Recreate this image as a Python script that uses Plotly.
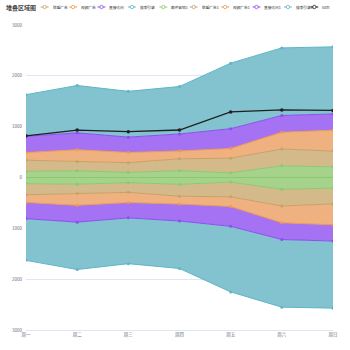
import plotly.graph_objects as go

days = ["周一", "周二", "周三", "周四", "周五", "周六", "周日"]
series_names = ["邮件营销", "联盟广告", "视频广告", "直接访问", "搜索引擎"]
email = [120, 132, 101, 134, 90, 230, 210]
union = [220, 182, 191, 234, 290, 330, 310]
video = [150, 232, 201, 154, 190, 330, 410]
direct = [320, 332, 301, 334, 390, 330, 320]
search = [820, 932, 901, 934, 1290, 1330, 1320]
sum_vals = [820, 932, 901, 934, 1290, 1330, 1320]
y_ticks = [3000, 2000, 1000, 0, -1000, -2000, -3000]
y_tick_text = ["3000", "2000", "1000", "0", "1000", "2000", "3000"]
legend_items = ["联盟广告", "视频广告", "直接访问", "搜索引擎", "邮件营销1",
                "联盟广告1", "视频广告1", "直接访问1", "搜索引擎1", "sum"]

values = [email, union, video, direct, search]
line_colors = ["#8cc96c", "#c7a266", "#f09a50", "#8c4ef0", "#5eb6c7"]
fill_colors = ["#a6d38c", "#d4b98b", "#efb17f", "#a472f2", "#82c3cf"]
legend_colors = ["#c7a266", "#f09a50", "#8c4ef0", "#5eb6c7", "#8cc96c",
                 "#c7a266", "#f09a50", "#8c4ef0", "#5eb6c7", "#1f1f1f"]
legend_icon_px = [42, 71, 100, 131, 163, 194, 226, 258, 290, 317]

W, H = 350, 350
ML, MR, MT, MB = 23, 14, 25, 20
PW, PH = W - ML - MR, H - MT - MB


def px_x(px):
    return (px - ML) / PW


def px_y(py):
    return (H - MB - py) / PH


fig = go.Figure()
for name, vals, lc, fc in zip(series_names, values, line_colors, fill_colors):
    fig.add_trace(go.Scatter(x=days, y=vals, name=name, stackgroup="pos",
                             mode="lines+markers", line=dict(color=lc, width=1),
                             marker=dict(size=3, color=lc), fillcolor=fc))
for name, vals, lc, fc in zip(series_names, values, line_colors, fill_colors):
    fig.add_trace(go.Scatter(x=days, y=[-v for v in vals], name=name + "1", stackgroup="neg",
                             mode="lines+markers", line=dict(color=lc, width=1),
                             marker=dict(size=3, color=lc), fillcolor=fc))
fig.add_trace(go.Scatter(x=days, y=sum_vals, name="sum", mode="lines+markers",
                         line=dict(color="#1f1f1f", width=1.3),
                         marker=dict(size=3.5, color="#1f1f1f")))

# zero baseline line
fig.add_shape(type="line", xref="paper", yref="y", x0=0, x1=1, y0=0, y1=0,
              line=dict(color="#8cc96c", width=1), layer="above")

# manual legend
fs = 3.7
ly = 7.0
for name, col, cx in zip(legend_items, legend_colors, legend_icon_px):
    fig.add_shape(type="line", xref="paper", yref="paper",
                  x0=px_x(cx - 4), x1=px_x(cx + 4), y0=px_y(ly), y1=px_y(ly),
                  line=dict(color=col, width=1))
    fig.add_shape(type="circle", xref="paper", yref="paper",
                  x0=px_x(cx - 1.7), x1=px_x(cx + 1.7),
                  y0=px_y(ly + 1.7), y1=px_y(ly - 1.7),
                  line=dict(color=col, width=0.8), fillcolor="white")
    fig.add_annotation(x=px_x(cx + 6), y=px_y(ly), xref="paper", yref="paper",
                       text=name, showarrow=False, xanchor="left", yanchor="middle",
                       font=dict(size=fs, color="#333333"))

fig.add_annotation(x=px_x(1), y=px_y(7.5), xref="paper", yref="paper",
                   text="<b>堆叠区域图</b>", showarrow=False, xanchor="left", yanchor="middle",
                   font=dict(size=6, color="#464646"))

fig.update_layout(
    width=W, height=H,
    margin=dict(l=ML, r=MR, t=MT, b=MB),
    paper_bgcolor="white", plot_bgcolor="white",
    showlegend=False,
    font=dict(family="Noto Sans CJK SC, Noto Sans, sans-serif", color="#6e7079"),
    xaxis=dict(type="category", range=[0, 6], showgrid=False, zeroline=False,
               showline=True, linecolor="#e0e6f1", linewidth=1,
               tickfont=dict(size=4.5, color="#6e7079"), ticks=""),
    yaxis=dict(range=[-3000, 3000], tickvals=y_ticks, ticktext=y_tick_text,
               showgrid=True, gridcolor="#e0e6f1", gridwidth=1, zeroline=False,
               tickfont=dict(size=4.5, color="#6e7079"), ticks="",
               ticklabelstandoff=3),
)

fig.write_html("out.html")
